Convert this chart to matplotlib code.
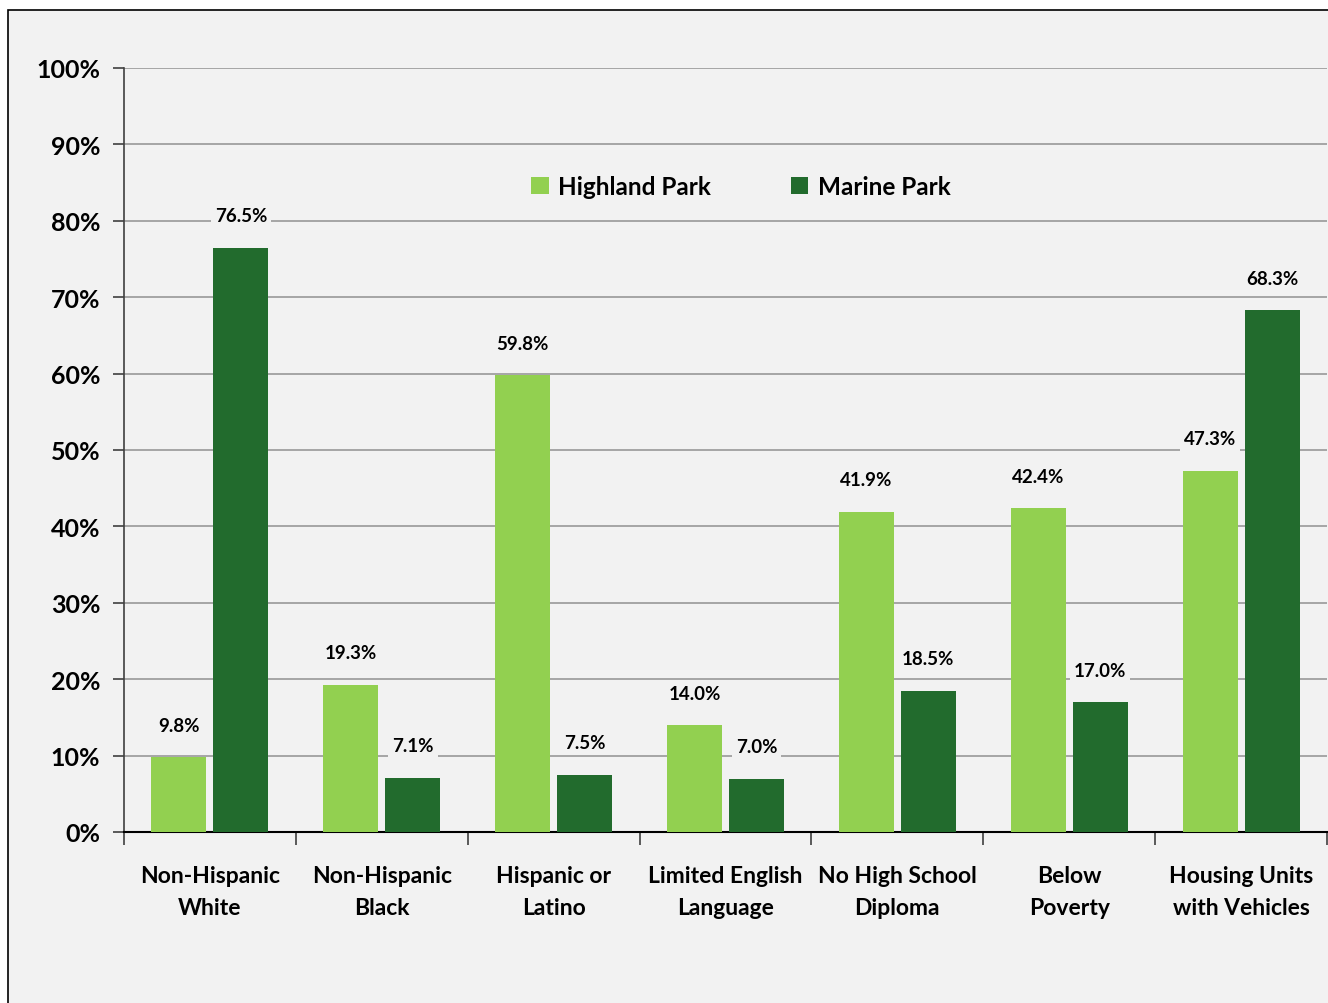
import numpy as np
import matplotlib.pyplot as plt
from matplotlib.patches import Rectangle

plt.rcParams['font.family'] = ['Lato', 'DejaVu Sans']
plt.rcParams['font.weight'] = 'bold'

categories = ['Non-Hispanic\nWhite', 'Non-Hispanic\nBlack', 'Hispanic or\nLatino',
              'Limited English\nLanguage', 'No High School\nDiploma', 'Below\nPoverty',
              'Housing Units\nwith Vehicles']
highland = [9.8, 19.3, 59.8, 14.0, 41.9, 42.4, 47.3]
marine = [76.5, 7.1, 7.5, 7.0, 18.5, 17.0, 68.3]
series_names = ['Highland Park', 'Marine Park']
colors = ['#92D050', '#226B2D']
bg = '#F2F2F2'

fig = plt.figure(figsize=(13.28, 10.04), dpi=100)
fig.patch.set_facecolor('white')
# chart area with border
fig.patches.append(Rectangle((8 / 1328, -0.1), 1.2, 1.1 - 11 / 1004, transform=fig.transFigure,
                             facecolor=bg, edgecolor='black', linewidth=1.2, zorder=-10))

ax = fig.add_axes([124 / 1328, 171 / 1004, 1203 / 1328, 764 / 1004])
ax.set_zorder(5)
ax.set_facecolor(bg)

x = np.arange(len(categories))
w = 0.32
off = 0.18
bars1 = ax.bar(x - off, highland, w, color=colors[0], label=series_names[0], zorder=3)
bars2 = ax.bar(x + off, marine, w, color=colors[1], label=series_names[1], zorder=3)

for bars, vals in [(bars1, highland), (bars2, marine)]:
    for b, v in zip(bars, vals):
        ax.annotate('%.1f%%' % v, (b.get_x() + b.get_width() / 2, v), xytext=(0, 23),
                    textcoords='offset points', ha='center', va='center', fontsize=13.5,
                    fontweight='bold', zorder=4,
                    bbox=dict(facecolor=bg, edgecolor='none', pad=3))

ax.set_xlim(-0.5, len(categories) - 0.5)
ax.set_ylim(0, 100)
ax.set_yticks(np.arange(0, 101, 10))
ax.set_yticklabels(['%d%%' % t for t in range(0, 101, 10)], fontsize=18, fontweight='bold')
ax.yaxis.grid(True, color='#A0A0A0', linewidth=1.3, zorder=1)
ax.set_axisbelow(True)

ax.set_xticks(x)
ax.set_xticklabels(categories, fontsize=16.5, fontweight='bold', linespacing=1.65)
ax.tick_params(axis='x', length=0, pad=24)
ax.set_xticks(np.arange(-0.5, len(categories), 1), minor=True)
ax.tick_params(axis='x', which='minor', length=9, width=1.2, color='#404040')
ax.tick_params(axis='y', length=8, width=1.2, color='#404040', pad=9)

for s in ['top', 'right']:
    ax.spines[s].set_visible(False)
ax.spines['left'].set_color('#404040')
ax.spines['bottom'].set_color('black')
ax.spines['left'].set_linewidth(1.2)
ax.spines['bottom'].set_linewidth(1.5)

ax.legend(loc='center', bbox_to_anchor=(0.513, 0.845), ncol=2, frameon=False,
          prop={'size': 17.5, 'weight': 'bold'}, handlelength=0.7, handleheight=0.7,
          columnspacing=3.3, handletextpad=0.4)

plt.savefig('out.png', dpi=100, facecolor='white')
